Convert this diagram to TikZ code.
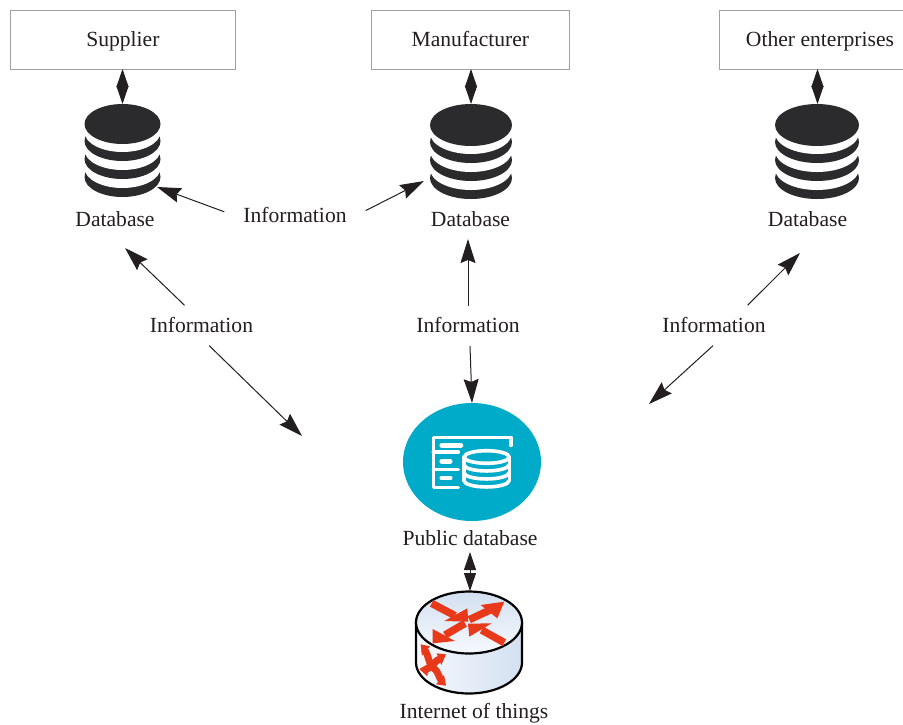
\documentclass[tikz,border=0pt]{standalone}
\usepackage{fontspec}
\setmainfont{Liberation Serif}
\usetikzlibrary{arrows.meta,shapes.geometric}
\definecolor{ink}{HTML}{231F20}
\definecolor{dbdark}{HTML}{2B2B2D}
\definecolor{boxgray}{HTML}{A0A0A0}
\definecolor{teal}{HTML}{00ABC9}
\definecolor{routerred}{HTML}{E8391A}
\definecolor{rlight}{HTML}{F6F9FD}
\definecolor{rblue}{HTML}{D3E0F1}
\tikzset{
  lbl/.style={font=\fontsize{21.6}{24}\selectfont,text=ink,inner sep=0pt,text height=18pt,text depth=4.5pt},
  infolbl/.style={lbl,minimum height=40pt},
  boxnode/.style={lbl,draw=boxgray,line width=.8pt,anchor=north west},
  flow/.style={draw=ink,line width=1pt,-{Stealth[length=24pt,width=15pt,inset=3pt]}},
  both/.style={draw=ink,line width=.9pt,{Stealth[length=18pt,width=12pt,inset=0pt]}-{Stealth[length=18pt,width=12pt,inset=0pt]}},
  wline/.style={draw=white,line width=3.6pt,line cap=round,line join=round},
  wbar/.style={draw=white,line width=4.5pt,line cap=round},
  redfill/.style={fill=routerred,draw=none},
  redline/.style={draw=routerred,line cap=butt},
}
\newcommand{\dbstack}[4]{% x, top-ellipse cy, rx, ry
  \foreach \off/\col in {53/dbdark,44/white,35/dbdark,26/white,17/dbdark,8/white,0/dbdark}{
    \fill[\col] (#1,#2+\off) ellipse [x radius=#3 pt,y radius=#4 pt];
  }
}
\begin{document}
\begin{tikzpicture}[x=1pt,y=-1pt]
\useasboundingbox (0,0) rectangle (903,724);
\fill[white] (0,0) rectangle (903,724);

% top boxes
\node[boxnode,minimum width=225pt,minimum height=59pt] (supplier) at (10,10) {Supplier};
\node[boxnode,minimum width=198pt,minimum height=59pt] (manuf) at (371,10) {Manufacturer};
\draw[draw=boxgray,line width=.8pt] (903,10) -- (719,10) -- (719,69) -- (903,69);
\node[lbl,minimum height=59pt] (other) at (820,39.5) {Other enterprises};

% database icons
\dbstack{122.5}{124}{38}{20}
\dbstack{471}{125}{41}{21}
\dbstack{817}{125}{42}{21}
\coordinate (dbAtop) at (122.5,104);
\coordinate (dbBtop) at (471,104);
\coordinate (dbCtop) at (817.5,104);
\coordinate (supB) at (122.5,69);
\coordinate (manB) at (471,69);
\coordinate (othB) at (817.5,69);
\draw[both] (supB) -- (dbAtop);
\draw[both] (manB) -- (dbBtop);
\draw[both] (othB) -- (dbCtop);

\node[lbl] (dbAlabel) at (115,219.5) {Database};
\node[lbl] (dbBlabel) at (470.5,219.5) {Database};
\node[lbl] (dbClabel) at (807.5,219.5) {Database};

% information labels
\node[lbl,minimum width=141pt,minimum height=20pt] (infoT) at (295,215.5) {Information};
\node[infolbl,minimum width=106pt] (infoL) at (201.5,325.5) {Information};
\node[infolbl,minimum width=106pt] (infoM) at (468,326) {Information};
\node[infolbl,minimum width=106pt] (infoR) at (714,325.5) {Information};

% arrow targets
\coordinate (tA) at (157,187);
\coordinate (tB) at (424,181);
\coordinate (tC) at (125,248);
\coordinate (tD) at (302,436);
\coordinate (tE) at (468,239);
\coordinate (tF) at (472,403);
\coordinate (tG) at (800,253);
\coordinate (tH) at (649,404);
\coordinate (mx) at (470,0);

\draw[flow] (infoT.177) -- (tA);
\draw[flow] (infoT.4) -- (tB);
\draw[flow] (infoL.130) -- (tC);
\draw[flow] (infoL.-69) -- (tD);
\draw[flow] (infoM.north) -- (tE);
\draw[flow] (infoM.south -| mx) -- (tF);
\draw[flow] (infoR.31) -- (tG);
\draw[flow] (infoR.-93) -- (tH);

% public database
\node[fill=teal,draw=none,ellipse,minimum width=138pt,minimum height=118pt,inner sep=0pt] (pub) at (472,462) {};
\begin{scope}[shift={(425,428)},x=.33333pt,y=-.33333pt]
  \draw[wline] (258,52) -- (258,28) -- (25,28) -- (25,178) -- (100,178);
  \draw[wline] (25,72) -- (100,72);
  \draw[wline] (25,125) -- (100,125);
  \draw[wbar] (50,52) -- (108,52);
  \draw[wbar] (50,100) -- (76,100);
  \draw[wbar] (50,150) -- (76,150);
  \draw[wline] (185,87) ellipse [x radius=22.5pt,y radius=6.3pt];
  \draw[wline] (117,87) -- (117,158);
  \draw[wline] (253,87) -- (253,158);
  \draw[wline] (117,158) arc [start angle=180,end angle=360,x radius=22.5pt,y radius=6.3pt];
  \draw[wline] (117,110) arc [start angle=180,end angle=360,x radius=22.5pt,y radius=6.3pt];
  \draw[wline] (117,134) arc [start angle=180,end angle=360,x radius=22.5pt,y radius=6.3pt];
\end{scope}
\node[lbl] (publbl) at (470,538.5) {Public database};

% router
\coordinate (rtop) at (470,591);
\coordinate (publow) at (470,552);
\draw[both] (publow) -- (rtop);
\path[left color=rlight,right color=rblue,draw=black,line width=2.2pt]
  (416,622.5) -- (416,662.5) arc [start angle=180,end angle=360,x radius=53pt,y radius=31pt]
  -- (522,622.5) -- cycle;
\path[top color=rblue,bottom color=rlight,draw=black,line width=2.2pt]
  (469,622.5) ellipse [x radius=53pt,y radius=31pt];
\begin{scope}[shift={(410,585)},x=.33333pt,y=-.33333pt]
  \draw[redline,line width=7.5pt] (65,55) -- (135,92);
  \fill[redfill] (172,70) -- (175,110) -- (103,108) -- cycle;
  \draw[redline,line width=7.5pt] (178,104) -- (240,75);
  \fill[redfill] (283,50) -- (212,60) -- (262,100) -- cycle;
  \draw[redline,line width=7.5pt] (165,115) -- (105,150);
  \fill[redfill] (68,132) -- (68,175) -- (135,168) -- cycle;
  \draw[redline,line width=7.5pt] (283,173) -- (215,135);
  \fill[redfill] (174,116) -- (245,115) -- (178,155) -- cycle;
  % small four-way arrows on the side
  \draw[redline,line width=7pt] (42,192) .. controls (60,215) and (52,235) .. (72,250) .. controls (85,260) and (85,275) .. (96,290);
  \draw[redline,line width=7pt] (90,222) .. controls (75,225) and (72,240) .. (62,245) .. controls (52,250) and (50,255) .. (42,258);
  \fill[redfill] (32,178) -- (60,184) -- (36,212) -- cycle;
  \fill[redfill] (108,208) -- (80,205) -- (94,240) -- cycle;
  \fill[redfill] (28,252) -- (56,236) -- (52,274) -- cycle;
  \fill[redfill] (108,302) -- (78,298) -- (102,270) -- cycle;
\end{scope}
\node[lbl] (iot) at (474,712) {Internet of things};
\end{tikzpicture}
\end{document}
